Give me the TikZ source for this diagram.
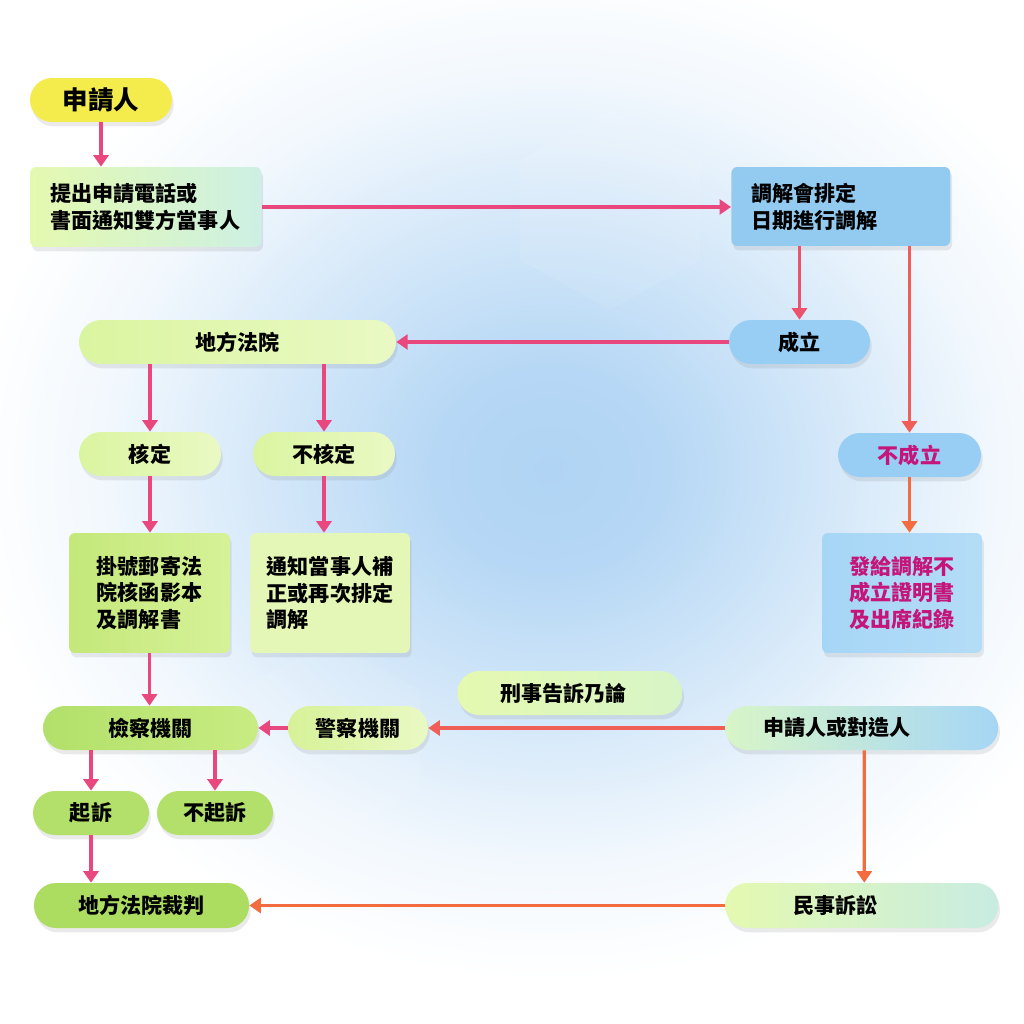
\documentclass[tikz,border=0pt]{standalone}
\usepackage{fontspec}
\setmainfont{Noto Sans CJK TC}
\usetikzlibrary{shadows,arrows.meta}
\definecolor{glowc}{RGB}{176,212,244}
\definecolor{yel}{RGB}{244,236,76}
\definecolor{gA}{RGB}{228,249,176}
\definecolor{gAc}{RGB}{205,240,228}
\definecolor{bA}{RGB}{147,203,240}
\definecolor{bB}{RGB}{152,206,243}
\definecolor{gL}{RGB}{218,245,160}
\definecolor{gLL}{RGB}{234,249,196}
\definecolor{gM}{RGB}{196,232,122}
\definecolor{gM2}{RGB}{214,242,152}
\definecolor{gD}{RGB}{178,224,106}
\definecolor{gD2}{RGB}{200,236,130}
\definecolor{gE}{RGB}{172,220,96}
\definecolor{cyanL}{RGB}{200,236,226}
\definecolor{bR}{RGB}{166,214,246}
\definecolor{gC}{RGB}{216,245,200}
\definecolor{mag}{RGB}{197,21,122}
\definecolor{pinkc}{RGB}{232,72,126}
\definecolor{redc}{RGB}{236,82,110}
\definecolor{orc}{RGB}{243,108,64}
\definecolor{mixc}{RGB}{240,94,88}
\pgfdeclareradialshading{glow}{\pgfpoint{0bp}{0bp}}{color(0bp)=(glowc); color(5bp)=(glowc!92!white); color(12bp)=(glowc!55!white); color(19bp)=(glowc!18!white); color(25bp)=(white); color(50bp)=(white)}
\tikzset{
  base/.style={font=\fontsize{12}{15.3}\selectfont\bfseries, text=black, inner sep=0pt,
    drop shadow={shadow xshift=1pt, shadow yshift=-2.5pt, opacity=0.16}},
  pill/.style={base, rectangle, rounded corners=0.44cm, minimum height=0.88cm},
  boxs/.style={base, rectangle, rounded corners=0.12cm},
  conn/.style={line width=1.9pt, draw=pinkc, -{Triangle[width=8.5pt,length=6.5pt]}},
}
\begin{document}
\begin{tikzpicture}[x=0.02cm,y=-0.02cm]
\useasboundingbox (0,0) rectangle (1024,1024);
\fill[white] (0,0) rectangle (1024,1024);
\shade[shading=glow] (550,470) ellipse [x radius=11.6cm, y radius=10.2cm];
% faint background hexagons
\begin{scope}[white, opacity=0.08]
\fill (610,110) -- (700,160) -- (700,260) -- (610,310) -- (520,260) -- (520,160) -- cycle;
\fill (330,640) -- (420,690) -- (420,790) -- (330,840) -- (240,790) -- (240,690) -- cycle;
\fill (980,700) -- (1070,750) -- (1070,850) -- (980,900) -- (890,850) -- (890,750) -- cycle;
\end{scope}

% nodes
\node[pill, fill=yel, minimum width=2.84cm, font=\fontsize{14.5}{17}\selectfont\bfseries] (sq) at (101,100) {申請人};
\node[boxs, left color=gA, right color=gAc, anchor=west, text width=3.82cm, inner xsep=0.4cm, minimum height=1.6cm, align=left] (tc) at (30,207) {提出申請電話或\\書面通知雙方當事人};
\node[boxs, fill=bA, anchor=west, text width=3.58cm, inner xsep=0.4cm, minimum height=1.58cm, align=left] (tj) at (731,206.5) {調解會排定\\日期進行調解};
\node[pill, fill=bB, minimum width=2.82cm] (cl) at (799.5,342) {成立};
\node[pill, left color=gL, right color=gLL, minimum width=6.34cm] (dfy) at (237.5,342) {地方法院};
\node[pill, left color=gL, right color=gLL, minimum width=2.84cm] (hd) at (150,454) {核定};
\node[pill, left color=gL, right color=gLL, minimum width=2.84cm] (bhd) at (324,454) {不核定};
\node[pill, fill=bB, minimum width=2.86cm, text=mag] (bcl) at (909.5,455) {不成立};
\node[boxs, left color=gM, right color=gM2, minimum width=3.22cm, minimum height=2.4cm, align=left] (gh) at (149.5,593) {掛號郵寄法\\院核函影本\\及調解書};
\node[boxs, fill=gLL!60!gL, minimum width=3.2cm, minimum height=2.4cm, align=left] (tz) at (330,593) {通知當事人補\\正或再次排定\\調解};
\node[boxs, left color=bR, right color=bR!85!white, minimum width=3.2cm, minimum height=2.4cm, align=left, text=mag] (fg) at (902,593) {發給調解不\\成立證明書\\及出席紀錄};
\node[pill, left color=gA, right color=gC, anchor=west, text width=2.78cm, inner xsep=0.86cm, align=left] (xs) at (457,693) {刑事告訴乃論};
\node[pill, left color=gD, right color=gD2, minimum width=4.3cm] (jc) at (150.5,728) {檢察機關};
\node[pill, left color=gM2, right color=gLL, minimum width=2.8cm] (jing) at (358,728) {警察機關};
\node[pill, left color=gC, right color=bR, anchor=west, text width=3.95cm, inner xsep=0.754cm, align=left] (sd) at (725,728) {申請人或對造人};
\node[pill, fill=gD, minimum width=2.32cm] (qs) at (91,813) {起訴};
\node[pill, fill=gD, minimum width=2.32cm] (bqs) at (215,813) {不起訴};
\node[pill, fill=gE, minimum width=4.3cm, minimum height=0.9cm] (cp) at (141.5,905.5) {地方法院裁判};
\node[pill, left color=gA, right color=cyanL, anchor=west, text width=2.75cm, inner xsep=1.354cm, minimum height=0.9cm, align=left] (ms) at (725,905.5) {民事訴訟};

% connectors
\draw[conn] (sq.south) -- (sq.south |- tc.north);
\draw[conn] (tc.east) -- (tc.east -| tj.west);
\draw[conn, draw=redc] (tj.south -| cl.north) -- (cl.north);
\draw[conn, draw=mixc] (tj.south -| bcl.north) -- (bcl.north);
\draw[conn] (cl.west) -- (dfy.east);
\draw[conn] (dfy.south -| hd.north) -- (hd.north);
\draw[conn] (dfy.south -| bhd.north) -- (bhd.north);
\draw[conn] (hd.south) -- (hd.south |- gh.north);
\draw[conn] (bhd.south) -- (bhd.south |- tz.north);
\draw[conn, draw=orc] (bcl.south) -- (bcl.south |- fg.north);
\draw[conn] (gh.south) -- (gh.south |- jc.north);
\draw[conn] (jing.west) -- (jc.east);
\draw[conn, draw=mixc] (sd.west) -- (jing.east);
\draw[conn] (jc.south -| qs.north) -- (qs.north);
\draw[conn] (jc.south -| bqs.north) -- (bqs.north);
\draw[conn] (qs.south) -- (qs.south |- cp.north);
\draw[conn, draw=orc] ([xshift=0.05cm]sd.south) -- ([xshift=0.05cm]ms.north);
\draw[conn, draw=orc] (ms.west) -- (cp.east);
\end{tikzpicture}
\end{document}
